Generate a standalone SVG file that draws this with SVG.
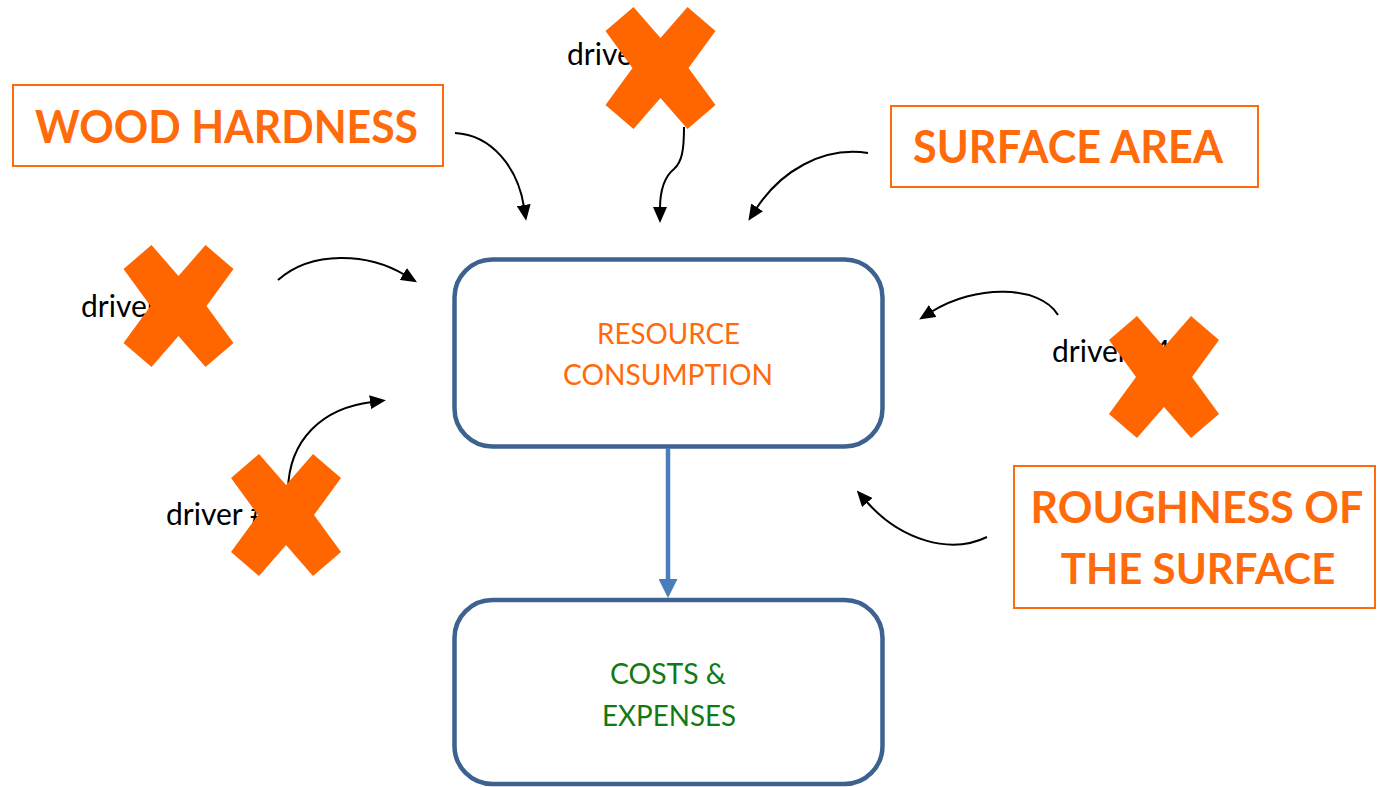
<svg xmlns="http://www.w3.org/2000/svg" xmlns:xlink="http://www.w3.org/1999/xlink" width="1377" height="787" viewBox="0 0 1377 787">
  <style>
    .factor-box { fill: #ffffff; stroke: #ff6a0a; stroke-width: 2; }
    .factor-text { font-family: Lato, "Open Sans", "Liberation Sans", sans-serif; font-weight: 700; font-size: 45px; fill: #ff6a0a; }
    .flow-box { fill: #ffffff; stroke: #3e6290; stroke-width: 4.5; }
    .flow-text { font-family: Lato, "Open Sans", "Liberation Sans", sans-serif; font-size: 29px; text-anchor: start; }
    .driver-text { font-family: Lato, "Open Sans", "Liberation Sans", sans-serif; font-size: 30px; fill: #000000; }
    .influence { fill: none; stroke: #000000; stroke-width: 2; marker-end: url(#head-black); }
    .flow { fill: none; stroke: #4a7ebb; stroke-width: 4.5; marker-end: url(#head-blue); }
    .strike { fill: #ff6600; }
  </style>
  <defs>
    <marker id="head-black" viewBox="0 0 16 14" refX="2" refY="7" markerWidth="16" markerHeight="14" markerUnits="userSpaceOnUse" orient="auto">
      <path d="M0,0 L16,7 L0,14 z" fill="#000000"/>
    </marker>
    <marker id="head-blue" viewBox="0 0 19 19" refX="2" refY="9.5" markerWidth="19" markerHeight="19" markerUnits="userSpaceOnUse" orient="auto">
      <path d="M0,0 L19,9.5 L0,19 z" fill="#4a7ebb"/>
    </marker>
    <!-- thick "X" strike mark -->
    <polygon id="strike-x" points="-27,-61 0,-30 27,-61 55,-37 28,0 55,37 27,61 0,30 -27,61 -55,37 -28,0 -55,-37"/>
  </defs>

  <!-- factor boxes -->
  <g id="wood-hardness">
    <rect class="factor-box" x="13" y="85" width="430" height="81"/>
    <text class="factor-text" x="35" y="143" textLength="383" lengthAdjust="spacingAndGlyphs">WOOD HARDNESS</text>
  </g>
  <g id="surface-area">
    <rect class="factor-box" x="891" y="106" width="367" height="81"/>
    <text class="factor-text" x="913" y="163" textLength="310" lengthAdjust="spacingAndGlyphs">SURFACE AREA</text>
  </g>
  <g id="roughness">
    <rect class="factor-box" x="1014" y="466" width="361" height="142"/>
    <text class="factor-text" x="1197" y="523" text-anchor="middle" style="font-size:43px">ROUGHNESS OF</text>
    <text class="factor-text" x="1198" y="584" text-anchor="middle" style="font-size:42px">THE SURFACE</text>
  </g>

  <!-- main flow boxes -->
  <g id="resource-consumption">
    <rect class="flow-box" x="454.5" y="259.5" width="428" height="187" rx="38" ry="38"/>
    <text class="flow-text" x="597" y="344" fill="#ff6a0a" textLength="143" lengthAdjust="spacingAndGlyphs">RESOURCE</text>
    <text class="flow-text" x="563" y="385" fill="#ff6a0a" textLength="210" lengthAdjust="spacingAndGlyphs">CONSUMPTION</text>
  </g>
  <g id="costs-expenses">
    <rect class="flow-box" x="454.5" y="600" width="428" height="184" rx="38" ry="38"/>
    <text class="flow-text" x="610" y="684" fill="#137a13" textLength="116" lengthAdjust="spacingAndGlyphs">COSTS &amp;</text>
    <text class="flow-text" x="602" y="726" fill="#137a13" textLength="134" lengthAdjust="spacingAndGlyphs">EXPENSES</text>
  </g>

  <!-- driver labels -->
  <g id="driver-top"><text class="driver-text" x="567" y="65">driver #1</text></g>
  <g id="driver-left"><text class="driver-text" x="81" y="317">driver #2</text></g>
  <g id="driver-bottom-left"><text class="driver-text" x="166" y="525">driver #3</text></g>
  <g id="driver-right"><text class="driver-text" x="1052" y="362">driver #4</text></g>

  <!-- connectors -->
  <g id="connectors">
    <path class="influence" d="M455,133 C492,135 518,168 524,207"/>
    <path class="influence" d="M684,127 C684,150 682,162 674,169 C664,177 660,190 660,209"/>
    <path class="influence" d="M868,153 C822,146 780,172 756,209"/>
    <path class="influence" d="M278,280 C312,250 368,253 405,275"/>
    <path class="influence" d="M288,490 C289,440 322,408 372,402"/>
    <path class="influence" d="M1058,315 C1040,285 975,284 931,312"/>
    <path class="influence" d="M987,537 C950,555 900,540 866,501"/>
    <path class="flow" d="M668,448 L668,581"/>
  </g>

  <!-- strike marks over the drivers -->
  <g id="strikes" class="strike">
    <use xlink:href="#strike-x" href="#strike-x" x="660.5" y="68"/>
    <use xlink:href="#strike-x" href="#strike-x" x="178.5" y="306"/>
    <use xlink:href="#strike-x" href="#strike-x" x="286" y="515"/>
    <use xlink:href="#strike-x" href="#strike-x" x="1164" y="377"/>
  </g>
</svg>
